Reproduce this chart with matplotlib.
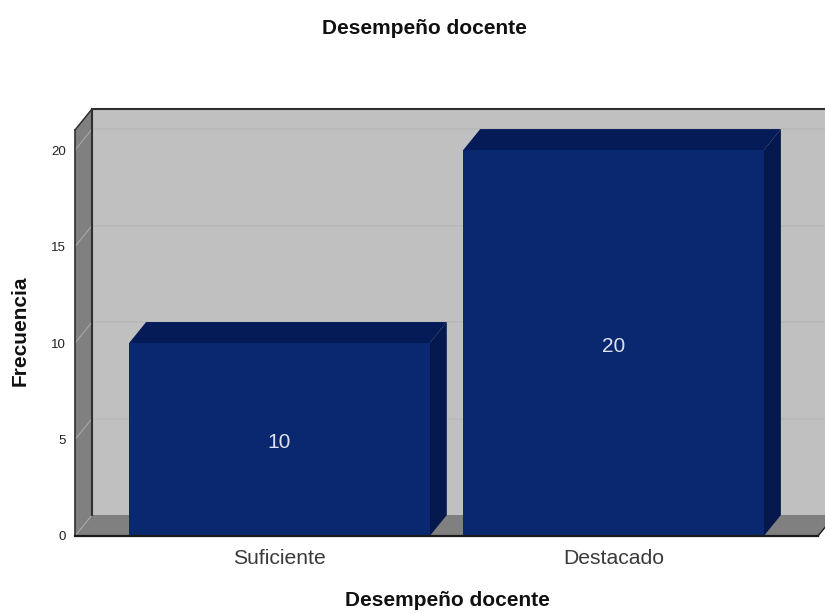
import matplotlib
matplotlib.use("Agg")
import matplotlib.pyplot as plt
from matplotlib.patches import Polygon

plt.rcParams['font.family'] = ['Liberation Sans', 'DejaVu Sans']

categories = ["Suficiente", "Destacado"]
values = [10, 20]
y_ticks = [0, 5, 10, 15, 20]
title = "Desempeño docente"
x_label = "Desempeño docente"
y_label = "Frecuencia"

W, H = 825, 613
L, R, B, T = 75, 818, 536, 130
DX, DY = 17 / 334, 21 / 19.3
BAR_W = 0.9
X0, X1 = -0.612, 1.612
Y1 = 21.04

fig = plt.figure(figsize=(W / 100, H / 100), dpi=100, facecolor="white")
ax = fig.add_axes([L / W, 1 - B / H, (R - L) / W, (B - T) / H])
ax.set_xlim(X0, X1)
ax.set_ylim(0, Y1)
ax.patch.set_visible(False)
for s in ax.spines.values():
    s.set_visible(False)

EDGE = "#303030"
# back wall
ax.add_patch(Polygon([(X0 + DX, DY), (X1 + DX + 0.1, DY), (X1 + DX + 0.1, Y1 + DY), (X0 + DX, Y1 + DY)],
                     fc="#c0c0c0", ec="none", clip_on=False, zorder=1))
# left wall
ax.add_patch(Polygon([(X0, 0), (X0 + DX, DY), (X0 + DX, Y1 + DY), (X0, Y1)],
                     fc="#808080", ec="none", clip_on=False, zorder=1.2))
# floor
ax.add_patch(Polygon([(X0, 0), (X1, 0), (X1 + DX, DY), (X1 + DX + 0.1, DY), (X0 + DX, DY)],
                     fc="#808080", ec="none", clip_on=False, zorder=1.2))
# grid
for t in y_ticks[1:]:
    ax.plot([X0 + DX, X1 + DX + 0.1], [t + DY, t + DY], color="#b9b9b9", lw=1.4, clip_on=False, zorder=1.5)
for t in y_ticks:
    ax.plot([X0, X0 + DX], [t, t + DY], color="#a8a8a8", lw=0.8, clip_on=False, zorder=1.5)
# frame edges
ax.plot([X0 + DX, X0 + DX], [DY, Y1 + DY], color=EDGE, lw=1.5, clip_on=False, zorder=2)
ax.plot([X0 + DX, X1 + DX + 0.1], [Y1 + DY, Y1 + DY], color=EDGE, lw=1.5, clip_on=False, zorder=2)
ax.plot([X0, X0 + DX], [Y1, Y1 + DY], color=EDGE, lw=1.1, clip_on=False, zorder=2)
ax.plot([X0, X0], [0, Y1], color=EDGE, lw=1.2, clip_on=False, zorder=2)

# bars
xs = list(range(len(categories)))
ax.bar(xs, values, width=BAR_W, color="#0a2870", edgecolor="none", zorder=4)
for x, v in zip(xs, values):
    l, r = x - BAR_W / 2, x + BAR_W / 2
    ax.add_patch(Polygon([(l, v), (r, v), (r + DX, v + DY), (l + DX, v + DY)],
                         fc="#051b58", ec="none", clip_on=False, zorder=3))
    ax.add_patch(Polygon([(r, 0), (r + DX, DY), (r + DX, v + DY), (r, v)],
                         fc="#04184e", ec="none", clip_on=False, zorder=3))
    ax.annotate(str(v), (x, v / 2), xytext=(0, -3), textcoords="offset pixels",
                color="#dfe2ec", ha="center", va="center", fontsize=15, zorder=5)

ax.plot([X0, X1], [0, 0], color="#1a1a1a", lw=1.6, clip_on=False, zorder=6)
ax.plot([X1, X1 + DX], [0, DY], color="#1a1a1a", lw=1.0, clip_on=False, zorder=2)

ax.set_xticks(xs, categories, fontsize=15.2, color="#3a3a3a")
ax.set_yticks(y_ticks, [str(t) for t in y_ticks], fontsize=9.5, color="#222222")
ax.tick_params(axis="both", length=0)
ax.tick_params(axis="x", pad=9)
ax.tick_params(axis="y", pad=6.5)

fig.text(424 / W, 1 - 29 / H, title, ha="center", va="center", fontsize=15, fontweight="bold", color="#111111")
fig.text(447 / W, 1 - 600 / H, x_label, ha="center", va="center", fontsize=15, fontweight="bold", color="#111111")
fig.text(20 / W, 1 - 331 / H, y_label, ha="center", va="center", rotation=90, fontsize=15, fontweight="bold", color="#111111")

fig.savefig("out.png", dpi=100)
